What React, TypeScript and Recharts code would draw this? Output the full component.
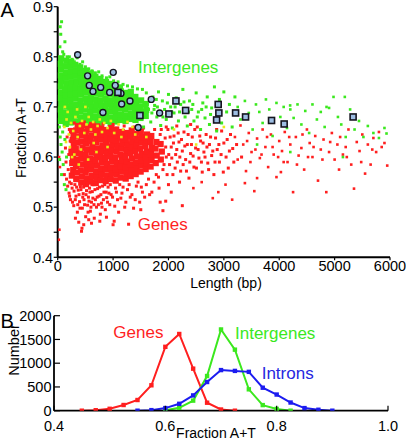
import React from 'react';
import { ScatterChart, Scatter, XAxis, YAxis, LineChart, Line } from 'recharts';

type P = [number, number];

// ---------- Panel A: tick values ----------
const lengthTicks = [0, 1000, 2000, 3000, 4000, 5000, 6000];
const fractionTicksA = [0.4, 0.45, 0.5, 0.55, 0.6, 0.65, 0.7, 0.75, 0.8, 0.85, 0.9];

// ---------- Panel B: tick values ----------
const numberTicks = [0, 500, 1000, 1500, 2000];
const fractionTicksB = [0.4, 0.6, 0.8, 1.0];

// ---------- Panel A: scatter data (length bp, fraction A+T) ----------
const redCore: P[] = [
  [255,0.563],[262,0.588],[248,0.611],[270,0.634],[258,0.652],[280,0.574],[275,0.6],[290,0.622],[285,0.645],
  [335,0.556],[348,0.569],[330,0.582],[352,0.594],[340,0.607],[327,0.617],[355,0.629],[344,0.641],[333,0.653],[360,0.662],
  [425,0.549],[438,0.561],[418,0.573],[442,0.585],[430,0.597],[415,0.608],[447,0.619],[426,0.631],[439,0.643],[421,0.654],[445,0.664],
  [512,0.546],[525,0.557],[505,0.569],[531,0.58],[518,0.592],[503,0.604],[528,0.615],[510,0.627],[522,0.638],[508,0.65],[534,0.659],
  [598,0.551],[615,0.562],[603,0.575],[620,0.586],[592,0.597],[611,0.609],[625,0.62],[596,0.632],[617,0.643],[604,0.655],[622,0.664],
  [688,0.548],[705,0.56],[694,0.571],[712,0.583],[684,0.594],[701,0.606],[716,0.617],[690,0.629],[708,0.64],[696,0.651],[713,0.661],
  [778,0.554],[795,0.566],[783,0.577],[800,0.589],[772,0.6],[790,0.612],[805,0.623],[781,0.635],[797,0.646],[786,0.657],
  [868,0.552],[885,0.563],[873,0.575],[890,0.586],[862,0.598],[880,0.609],[894,0.62],[871,0.632],[887,0.643],[876,0.654],
  [958,0.556],[975,0.568],[963,0.579],[980,0.591],[952,0.602],[970,0.614],[984,0.625],[961,0.636],[977,0.648],[966,0.658],
  [1048,0.553],[1065,0.565],[1053,0.576],[1070,0.588],[1042,0.599],[1060,0.611],[1074,0.622],[1051,0.633],[1067,0.644],[1056,0.655],
  [1138,0.559],[1155,0.571],[1143,0.582],[1160,0.594],[1132,0.605],[1150,0.617],[1164,0.628],[1141,0.639],[1157,0.65],
  [1228,0.557],[1245,0.568],[1233,0.58],[1250,0.591],[1222,0.602],[1240,0.614],[1254,0.625],[1231,0.636],[1247,0.648],
  [1318,0.562],[1335,0.574],[1323,0.585],[1340,0.597],[1312,0.608],[1330,0.62],[1344,0.631],[1321,0.642],[1337,0.653],
  [1408,0.566],[1425,0.578],[1413,0.589],[1430,0.601],[1402,0.612],[1420,0.624],[1434,0.635],[1411,0.646],
  [1498,0.571],[1515,0.583],[1503,0.594],[1520,0.606],[1492,0.617],[1510,0.629],[1524,0.64],[1501,0.65],
  [1588,0.576],[1605,0.588],[1593,0.6],[1610,0.611],[1582,0.622],[1600,0.634],[1614,0.645],
  [1678,0.581],[1695,0.594],[1683,0.606],[1700,0.618],[1672,0.63],[1690,0.642],
  [1770,0.588],[1788,0.603],[1765,0.617],[1782,0.63],
  [1862,0.595],[1880,0.611],[1858,0.626],
];

const redMid: P[] = [
  [180,0.542],[205,0.528],[230,0.515],[260,0.538],[290,0.503],[310,0.545],[330,0.522],[355,0.49],[370,0.534],[395,0.511],
  [410,0.541],[430,0.452],[445,0.498],[460,0.527],[475,0.515],[490,0.545],[505,0.481],[520,0.533],[540,0.504],[555,0.52],
  [575,0.538],[590,0.492],[610,0.51],[625,0.531],[640,0.545],[660,0.478],[680,0.515],[700,0.5],[720,0.537],[745,0.522],
  [770,0.486],[790,0.508],[810,0.542],[835,0.53],[860,0.495],[885,0.519],[910,0.54],[940,0.505],[965,0.525],[1000,0.465],
  [1020,0.472],[1045,0.538],[1080,0.515],[1120,0.545],[1160,0.528],[1210,0.5],[1260,0.535],[1310,0.52],[1370,0.498],[1420,0.542],
  [1480,0.51],[1530,0.53],[1600,0.545],[1660,0.525],[1740,0.55],[1830,0.538],[1900,0.493],[1950,0.512],[2050,0.53],[2200,0.55],
  [2250,0.503],[1280,0.466],[438,0.458],
  [120,0.565],[150,0.59],[140,0.618],[170,0.64],[190,0.575],[200,0.605],[215,0.55],[225,0.632],[160,0.556],[210,0.655],
  [300,0.668],[480,0.67],[650,0.668],[820,0.666],[1000,0.665],[1200,0.662],[1380,0.66],[1550,0.658],[1750,0.655],
  [1820,0.56],[1850,0.645],[1900,0.575],[1940,0.638],[1960,0.6],[1990,0.655],[2020,0.585],[2050,0.62],[2080,0.565],[2100,0.642],
  [2130,0.605],[2160,0.59],[2190,0.63],[2220,0.572],[2250,0.612],[2280,0.65],[2310,0.595],[2340,0.625],[2370,0.558],[2400,0.607],
  [2430,0.64],[2460,0.58],[2490,0.618],[2520,0.66],[2550,0.598],[2580,0.632],[2610,0.57],[2640,0.61],[2680,0.645],[2710,0.588],
  [2740,0.625],[2780,0.603],[2820,0.565],[2850,0.638],[2880,0.615],[2920,0.59],[2960,0.652],[3000,0.628],[3040,0.6],[3080,0.578],
  [3120,0.645],[3160,0.617],
  [215,0.522],[245,0.547],[268,0.51],[295,0.532],[318,0.515],[342,0.54],[362,0.505],[385,0.525],[402,0.498],[420,0.535],
  [452,0.52],[468,0.54],[485,0.505],[512,0.525],[530,0.548],[548,0.49],[565,0.512],[582,0.53],[600,0.5],[618,0.545],
  [635,0.518],[655,0.505],[672,0.535],[690,0.548],[712,0.52],[735,0.505],[755,0.54],[780,0.525],[800,0.5],[825,0.515],
  [850,0.545],[875,0.53],[900,0.51],[925,0.528],[950,0.545],[990,0.52],[1030,0.502],[1060,0.53],[1100,0.49],[1140,0.518],
  [1180,0.54],[1230,0.51],[1290,0.545],[1340,0.525],[1400,0.515],[1450,0.55],[1510,0.54],[1570,0.52],[1640,0.556],[1700,0.53],
  [1780,0.565],[320,0.478],[380,0.47],[470,0.465],[560,0.475],[610,0.468],[760,0.472],[880,0.48],[1500,0.495],[1850,0.51],
  [2000,0.545],
  [1920,0.585],[1950,0.62],[1975,0.565],[2005,0.605],[2030,0.64],[2060,0.598],[2090,0.628],[2120,0.578],[2150,0.615],[2175,0.648],
  [2205,0.6],[2235,0.635],[2265,0.585],[2295,0.622],[2325,0.572],[2355,0.645],[2385,0.59],[2415,0.625],[2445,0.602],[2475,0.655],
  [2505,0.578],[2535,0.615],[2565,0.642],[2595,0.59],[2625,0.628],[2660,0.6],[2695,0.62],[2725,0.575],[2760,0.64],[2800,0.612],
  [2840,0.59],[2870,0.655],[2910,0.625],[2950,0.605],[2990,0.57],[3060,0.635],[3100,0.612],[3180,0.59],[3230,0.625],[3320,0.6],
  [1870,0.655],[1960,0.66],[2150,0.662],[2400,0.665],
];

const redSparse: P[] = [
  [3200,0.64],[3250,0.595],[3300,0.663],[3350,0.625],[3400,0.572],[3450,0.648],[3500,0.61],[3550,0.532],[3600,0.637],[3650,0.598],
  [3700,0.655],[3750,0.62],[3800,0.58],[3850,0.645],[3900,0.605],[3950,0.56],[4000,0.632],[4050,0.612],[4100,0.65],[4150,0.59],
  [4200,0.625],[4250,0.53],[4300,0.64],[4350,0.603],[4400,0.618],[4450,0.575],[4500,0.655],[4550,0.628],[4600,0.6],[4650,0.642],
  [4700,0.553],[4750,0.615],[4800,0.635],[4850,0.53],[4900,0.61],[4950,0.648],[5000,0.595],[5050,0.625],[5100,0.64],[5150,0.605],
  [5200,0.62],[5250,0.655],[5300,0.585],[5350,0.537],[5400,0.63],[5450,0.612],[5500,0.645],[5550,0.567],[5600,0.625],[5650,0.585],
  [5700,0.638],[5750,0.61],[5800,0.65],[5850,0.62],[5950,0.583],[3150,0.515],[2800,0.518],[2600,0.55],[2450,0.538],[3380,0.548],
  [3600,0.558],[4030,0.57],[3030,0.545],[2900,0.53],[20,0.435],[30,0.455],[25,0.6],[40,0.58],
  [3420,0.632],[3480,0.59],[3570,0.615],[3680,0.605],[3780,0.64],[3880,0.62],[3980,0.6],[4080,0.59],[4180,0.64],[4320,0.585],
  [4420,0.645],[4520,0.6],[4620,0.62],[4780,0.595],[4920,0.63],[5080,0.575],[5220,0.6],[5480,0.59],[5680,0.615],[5900,0.628],
];

const greenCore: P[] = [
  [55,0.672],[62,0.684],[48,0.695],[66,0.706],[52,0.718],[60,0.729],[45,0.741],[63,0.752],[50,0.763],[58,0.775],[47,0.786],[65,0.797],
  [145,0.666],[152,0.678],[138,0.689],[156,0.701],[142,0.712],[150,0.724],[135,0.735],[153,0.746],[140,0.758],[148,0.769],[137,0.781],[155,0.792],
  [235,0.669],[242,0.68],[228,0.692],[246,0.703],[232,0.714],[240,0.726],[225,0.737],[243,0.748],[230,0.76],[238,0.771],[227,0.782],[245,0.79],
  [325,0.671],[332,0.683],[318,0.694],[336,0.705],[322,0.717],[330,0.728],[315,0.739],[333,0.75],[320,0.762],[328,0.773],[317,0.784],
  [415,0.668],[422,0.679],[408,0.691],[426,0.702],[412,0.713],[420,0.725],[405,0.736],[423,0.747],[410,0.758],[418,0.769],[407,0.779],
  [505,0.672],[512,0.683],[498,0.695],[516,0.706],[502,0.717],[510,0.729],[495,0.74],[513,0.751],[500,0.762],[508,0.772],
  [595,0.667],[602,0.678],[588,0.69],[606,0.701],[592,0.712],[600,0.724],[585,0.735],[603,0.746],[590,0.757],[598,0.767],
  [685,0.67],[692,0.681],[678,0.693],[696,0.704],[682,0.715],[690,0.727],[675,0.738],[693,0.749],[680,0.76],
  [775,0.668],[782,0.679],[768,0.691],[786,0.702],[772,0.713],[780,0.725],[765,0.736],[783,0.747],[770,0.756],
  [865,0.672],[872,0.683],[858,0.695],[876,0.706],[862,0.717],[870,0.729],[855,0.74],[873,0.75],
  [955,0.668],[962,0.679],[948,0.691],[966,0.702],[952,0.713],[960,0.725],[945,0.736],[963,0.746],
  [1045,0.671],[1052,0.682],[1038,0.694],[1056,0.705],[1042,0.716],[1050,0.728],[1035,0.739],
  [1135,0.674],[1142,0.685],[1128,0.697],[1146,0.708],[1132,0.719],[1140,0.731],[1125,0.739],
  [1225,0.672],[1232,0.683],[1218,0.695],[1236,0.706],[1222,0.717],[1230,0.728],
  [1315,0.676],[1322,0.687],[1308,0.699],[1326,0.71],[1312,0.721],[1320,0.73],
  [1405,0.674],[1412,0.686],[1398,0.697],[1416,0.708],[1402,0.72],
  [1495,0.678],[1502,0.69],[1488,0.701],[1506,0.713],
  [1590,0.682],[1598,0.694],[1585,0.706],
];

const greenMid: P[] = [
  [40,0.82],[55,0.845],[70,0.87],[45,0.86],[90,0.81],[110,0.805],[130,0.83],[170,0.8],[210,0.8],[260,0.795],
  [300,0.79],[350,0.798],[400,0.785],[450,0.79],[500,0.78],[560,0.776],[620,0.772],[680,0.768],[740,0.77],[800,0.762],
  [880,0.758],[940,0.76],[1010,0.752],[1090,0.75],[1180,0.745],[1260,0.742],[1350,0.74],[1440,0.736],[1530,0.735],
  [30,0.66],[45,0.64],[60,0.625],[80,0.61],[35,0.595],[100,0.585],[70,0.565],[120,0.545],[150,0.535],[90,0.65],[130,0.635],[160,0.6],
  [1550,0.66],[1600,0.728],[1640,0.695],[1680,0.67],[1720,0.72],[1750,0.703],[1790,0.68],[1820,0.73],[1860,0.663],[1890,0.712],
  [1930,0.695],[1960,0.675],[2000,0.725],[2040,0.7],[2070,0.658],[2100,0.688],[2140,0.718],[2180,0.672],[2220,0.705],[2260,0.735],
  [2300,0.68],[2340,0.662],[2380,0.712],[2420,0.695],[2460,0.672],[2500,0.728],[2540,0.69],[2580,0.655],[2620,0.708],[2660,0.678],
  [2700,0.72],[2740,0.665],[2780,0.698],[2830,0.74],[2870,0.652],[2920,0.715],[2960,0.668],[3000,0.73],[3050,0.69],[3100,0.705],
  [3150,0.66],[3200,0.72],[1450,0.7],[1560,0.69],[1620,0.705],[1700,0.688],[1780,0.715],[1850,0.69],
  [1660,0.712],[1740,0.695],[1800,0.7],[1900,0.68],[1980,0.708],[2060,0.69],[2120,0.7],[2200,0.69],[2280,0.71],[2360,0.69],
  [2440,0.705],[2520,0.68],[2600,0.695],[2680,0.7],[2760,0.685],
];

const greenSparse: P[] = [
  [3250,0.7],[3300,0.675],[3380,0.712],[3450,0.688],[3520,0.655],[3580,0.705],[3640,0.69],[3700,0.668],[3760,0.715],[3820,0.695],
  [3880,0.642],[3950,0.708],[4020,0.68],[4080,0.7],[4140,0.658],[4200,0.695],[4260,0.678],[4330,0.705],[4400,0.665],[4470,0.692],
  [4540,0.648],[4600,0.705],[4680,0.675],[4750,0.69],[4820,0.66],[4900,0.698],[4980,0.72],[5060,0.68],[5120,0.665],[5200,0.64],
  [5280,0.695],[5360,0.655],[5440,0.672],[5520,0.64],[5600,0.662],[5700,0.648],[5800,0.638],[5900,0.658],[4200,0.61],[3600,0.625],
  [5150,0.6],[5184,0.72],[4854,0.7],[4197,0.703],[5937,0.647],
];

const yellowPts: P[] = [
  [120,0.66],[160,0.675],[200,0.645],[240,0.668],[280,0.652],[320,0.68],[360,0.64],[400,0.662],[440,0.672],[480,0.648],
  [520,0.665],[560,0.68],[600,0.655],[640,0.67],[680,0.645],[720,0.662],[760,0.675],[800,0.65],[840,0.668],[900,0.658],
  [960,0.672],[1020,0.648],[1100,0.665],[1180,0.655],[1260,0.67],[1350,0.66],[220,0.62],[300,0.605],[420,0.615],[550,0.595],
  [700,0.61],[380,0.585],[260,0.6],[650,0.628],[900,0.62],[1150,0.64],[1400,0.645],[1600,0.64],[2100,0.655],[2500,0.625],
  [3000,0.66],[150,0.63],[180,0.69],[500,0.7],[130,0.7],[350,0.695],
];

const circleMarks: P[] = [
  [360,0.804],[540,0.762],[570,0.743],[637,0.731],[776,0.739],[938,0.729],[1003,0.769],[1039,0.743],
  [1142,0.727],[1155,0.706],[1305,0.712],[817,0.689],[1689,0.715],[1454,0.659],[1840,0.688],
];

const squareMarks: P[] = [
  [1088,0.729],[1485,0.683],[2008,0.686],[2135,0.712],[2310,0.693],[2898,0.705],[2910,0.688],
  [2869,0.674],[3212,0.688],[3392,0.68],[3861,0.673],[4089,0.666],[5334,0.68],
];

// ---------- Panel B: histogram data ----------
const genesBins = [0.45, 0.475, 0.5, 0.525, 0.55, 0.575, 0.6, 0.625, 0.65, 0.675, 0.7, 0.725];
const genesCounts = [0, 10, 40, 120, 225, 535, 1345, 1615, 885, 168, 25, 0];
const intergenesBins = [0.6, 0.625, 0.65, 0.675, 0.7, 0.725, 0.75, 0.775, 0.8, 0.825];
const intergenesCounts = [8, 60, 212, 730, 1710, 1285, 450, 118, 38, 0];
const intronsBins = [0.55, 0.575, 0.6, 0.625, 0.65, 0.675, 0.7, 0.725, 0.75, 0.775, 0.8, 0.825, 0.85, 0.875, 0.9];
const intronsCounts = [0, 12, 55, 145, 322, 604, 855, 838, 818, 484, 340, 172, 55, 20, 0];

const RED = '#ff1f1f';
const GREEN = '#3be81e';
const YELLOW = '#eaea1a';
const BLUE = '#1c1cf0';
const FONT = '"Liberation Sans", Arial, Helvetica, sans-serif';

const toPts = (a: P[]) => a.map(([x, y]) => ({ x, y }));
const zip = (xs: number[], ys: number[]) => xs.map((x, i) => ({ x, y: ys[i] }));

const sq = (size: number, color: string) => (p: any) => (
  <rect x={p.cx - size / 2} y={p.cy - size / 2} width={size} height={size} fill={color} />
);
const circleShape = (p: any) => (
  <circle cx={p.cx} cy={p.cy} r={3} fill="#9dbde2" stroke="#15151f" strokeWidth={1.4} />
);
const squareShape = (p: any) => (
  <rect x={p.cx - 3} y={p.cy - 3} width={6} height={6} fill="#9dbde2" stroke="#15151f" strokeWidth={1.6} />
);

const xTickA = (p: any) => (
  <g>
    <line x1={p.x} x2={p.x} y1={p.y} y2={p.y + 3} stroke="#000" strokeWidth={1.2} />
    <text x={p.x} y={p.y + 14} textAnchor="middle" fontSize={14.5} fontFamily={FONT} fill="#000">
      {p.payload.value}
    </text>
  </g>
);
const yTickA = (p: any) => {
  const v = p.payload.value;
  const major = Math.round(v * 100) % 10 === 0;
  return (
    <g>
      <line x1={p.x - 4} x2={p.x} y1={p.y} y2={p.y} stroke="#000" strokeWidth={1.2} />
      {major && (
        <text x={p.x - 4.5} y={p.y + 5.2} textAnchor="end" fontSize={14.5} fontFamily={FONT} fill="#000">
          {v.toFixed(1)}
        </text>
      )}
    </g>
  );
};
const xTickB = (p: any) => (
  <g>
    <line x1={p.x} x2={p.x} y1={p.y} y2={p.y - 5} stroke="#000" strokeWidth={1.2} />
    <text x={p.x} y={p.y + 20.3} textAnchor="middle" fontSize={14.5} fontFamily={FONT} fill="#000">
      {Number(p.payload.value).toFixed(1)}
    </text>
  </g>
);
const yTickB = (p: any) => (
  <g>
    <line x1={p.x} x2={p.x + 6} y1={p.y} y2={p.y} stroke="#000" strokeWidth={1.2} />
    <text x={p.x - 2.5} y={p.y + 5.2} textAnchor="end" fontSize={14.5} fontFamily={FONT} fill="#000">
      {p.payload.value}
    </text>
  </g>
);
const lineDot = (color: string) => (p: any) => (
  <rect key={`d-${p.index}`} x={p.cx - 2.2} y={p.cy - 2.2} width={4.4} height={4.4} fill={color} />
);

export default function App() {
  return (
    <div style={{ position: 'absolute', left: 0, top: 0, width: 406, height: 441, background: '#fff', fontFamily: FONT }}>
      <div style={{ position: 'absolute', left: 0, top: 0 }}>
        <ScatterChart width={406} height={290} margin={{ top: 6.7, right: 16, bottom: 0, left: 0 }}>
          <XAxis type="number" dataKey="x" domain={[0, 6000]} ticks={lengthTicks} interval={0} height={32.7}
            allowDataOverflow axisLine={{ stroke: '#000', strokeWidth: 2 }} tickLine={false} tickSize={0} tickMargin={0} tick={xTickA} />
          <YAxis type="number" dataKey="y" domain={[0.4, 0.9]} ticks={fractionTicksA} interval={0} width={57.7}
            allowDataOverflow axisLine={{ stroke: '#000', strokeWidth: 2 }} tickLine={false} tickSize={0} tickMargin={0} tick={yTickA} />
          <Scatter data={toPts(greenCore)} shape={sq(6.2, GREEN)} isAnimationActive={false} />
          <Scatter data={toPts(redCore)} shape={sq(6.2, RED)} isAnimationActive={false} />
          <Scatter data={toPts(redMid)} shape={sq(3, RED)} isAnimationActive={false} />
          <Scatter data={toPts(redSparse)} shape={sq(2.6, RED)} isAnimationActive={false} />
          <Scatter data={toPts(greenMid)} shape={sq(3, GREEN)} isAnimationActive={false} />
          <Scatter data={toPts(greenSparse)} shape={sq(2.6, GREEN)} isAnimationActive={false} />
          <Scatter data={toPts(yellowPts)} shape={sq(2.6, YELLOW)} isAnimationActive={false} />
          <Scatter data={toPts(circleMarks)} shape={circleShape} isAnimationActive={false} />
          <Scatter data={toPts(squareMarks)} shape={squareShape} isAnimationActive={false} />
        </ScatterChart>
      </div>
      <div style={{ position: 'absolute', left: 0, top: 290 }}>
        <LineChart width={406} height={151} margin={{ top: 25.7, right: 18, bottom: 0, left: 0 }}>
          <XAxis type="number" dataKey="x" domain={[0.4, 1.0]} ticks={fractionTicksB} interval={0} height={30.3}
            allowDataOverflow axisLine={{ stroke: '#000', strokeWidth: 1.8 }} tickLine={false} tickSize={0} tickMargin={0} tick={xTickB} />
          <YAxis type="number" domain={[0, 2000]} ticks={numberTicks} interval={0} width={54}
            allowDataOverflow axisLine={{ stroke: '#000', strokeWidth: 1.8 }} tickLine={false} tickSize={0} tickMargin={0} tick={yTickB} />
          <Line data={zip(genesBins, genesCounts)} dataKey="y" stroke={RED} strokeWidth={2} dot={lineDot(RED)} isAnimationActive={false} />
          <Line data={zip(intergenesBins, intergenesCounts)} dataKey="y" stroke={GREEN} strokeWidth={2} dot={lineDot(GREEN)} isAnimationActive={false} />
          <Line data={zip(intronsBins, intronsCounts)} dataKey="y" stroke={BLUE} strokeWidth={2} dot={lineDot(BLUE)} isAnimationActive={false} />
        </LineChart>
      </div>
      <svg width={406} height={441} style={{ position: 'absolute', left: 0, top: 0, pointerEvents: 'none' }} fontFamily={FONT}>
        <text x={0.5} y={17} fontSize={20} fill="#000">A</text>
        <text x={0.5} y={328} fontSize={20} fill="#000">B</text>
        <text transform="translate(25.5,138) rotate(-90)" textAnchor="middle" fontSize={14} fill="#000">Fraction A+T</text>
        <text x={226} y={287.5} textAnchor="middle" fontSize={14} fill="#000">Length (bp)</text>
        <text transform="translate(18.5,350) rotate(-90)" textAnchor="middle" fontSize={14.5} fill="#000">Number</text>
        <text x={216} y={438} textAnchor="middle" fontSize={14} fill="#000">Fraction A+T</text>
        <text x={138} y={72.7} fontSize={17} fill={GREEN}>Intergenes</text>
        <text x={137.7} y={230} fontSize={17} fill={RED}>Genes</text>
        <text x={113.3} y={337.5} fontSize={17} fill={RED}>Genes</text>
        <text x={235} y={339.3} fontSize={17} fill={GREEN}>Intergenes</text>
        <text x={261.7} y={379} fontSize={17} fill="#2626e0">Introns</text>
      </svg>
    </div>
  );
}
